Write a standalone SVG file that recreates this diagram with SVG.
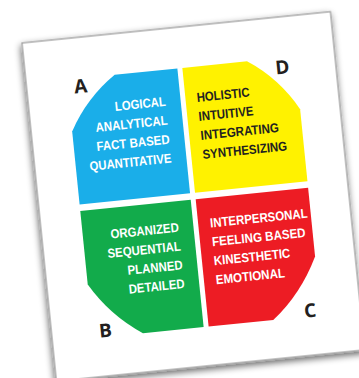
<svg xmlns="http://www.w3.org/2000/svg" width="359" height="378" viewBox="0 0 359 378">
  <defs>
    <filter id="sh" x="-10%" y="-10%" width="120%" height="120%">
      <feGaussianBlur in="SourceAlpha" stdDeviation="3.5"/>
      <feOffset dx="-1.5" dy="2.5" result="b"/>
      <feComponentTransfer><feFuncA type="linear" slope="0.6"/></feComponentTransfer>
      <feMerge><feMergeNode/><feMergeNode in="SourceGraphic"/></feMerge>
    </filter>
  </defs>
  <style>
    .t { font-family: "Liberation Sans", Arial, sans-serif; font-weight: bold; font-size: 13px; }
    .w { fill: #ffffff; }
    .k { fill: #231f20; }
    .e { text-anchor: end; }
    .lt { font-family: "Open Sans", "Liberation Sans", Arial, sans-serif; font-weight: bold; font-size: 19px; fill: #231f20; text-anchor: middle; }
  </style>
  <rect width="359" height="378" fill="#ffffff"/>
  <g transform="translate(22,43) rotate(-5.8)">
    <rect id="card" x="0" y="0" width="310" height="340" fill="#ffffff" stroke="#a0a0a0" stroke-width="1.3" filter="url(#sh)"/>
    <g id="quadrant-A">
      <path d="M89,41 L152,41 L152,166.5 L41,166.5 L41,93 Q59,61 89,41 Z" fill="#1aaee9"/>
      <text class="t w e" x="137" y="77" textLength="51" lengthAdjust="spacingAndGlyphs">LOGICAL</text>
      <text class="t w e" x="137" y="96" textLength="72.3" lengthAdjust="spacingAndGlyphs">ANALYTICAL</text>
      <text class="t w e" x="137" y="115" textLength="73.3" lengthAdjust="spacingAndGlyphs">FACT BASED</text>
      <text class="t w e" x="137" y="134" textLength="82.3" lengthAdjust="spacingAndGlyphs">QUANTITATIVE</text>
      <text class="lt" x="54" y="55.5">A</text>
    </g>
    <g id="quadrant-D">
      <path d="M157,41 L222,41 Q252,61 270,94 L270,166.5 L157,166.5 Z" fill="#fff200"/>
      <text class="t k" x="168.3" y="76.3" textLength="53" lengthAdjust="spacingAndGlyphs">HOLISTIC</text>
      <text class="t k" x="168.3" y="95.4" textLength="55" lengthAdjust="spacingAndGlyphs">INTUITIVE</text>
      <text class="t k" x="168.3" y="114.5" textLength="78.7" lengthAdjust="spacingAndGlyphs">INTEGRATING</text>
      <text class="t k" x="168.3" y="133.6" textLength="85" lengthAdjust="spacingAndGlyphs">SYNTHESIZING</text>
      <text class="lt" x="256.5" y="57">D</text>
    </g>
    <g id="quadrant-B">
      <path d="M41,173 L152,173 L152,301 L91,301 Q60,280 41,247 Z" fill="#12ab4b"/>
      <text class="t w e" x="137.3" y="203.6" textLength="68.6" lengthAdjust="spacingAndGlyphs">ORGANIZED</text>
      <text class="t w e" x="137.3" y="222.5" textLength="73.4" lengthAdjust="spacingAndGlyphs">SEQUENTIAL</text>
      <text class="t w e" x="137.3" y="241.4" textLength="55.3" lengthAdjust="spacingAndGlyphs">PLANNED</text>
      <text class="t w e" x="137.3" y="260.2" textLength="56" lengthAdjust="spacingAndGlyphs">DETAILED</text>
      <text class="lt" x="54" y="301">B</text>
    </g>
    <g id="quadrant-C">
      <path d="M157,173 L270,173 L270,242 Q252,278 222,301 L157,301 Z" fill="#ed1c24"/>
      <text class="t w" x="168.9" y="202.6" textLength="98" lengthAdjust="spacingAndGlyphs">INTERPERSONAL</text>
      <text class="t w" x="168.9" y="221.5" textLength="94" lengthAdjust="spacingAndGlyphs">FEELING BASED</text>
      <text class="t w" x="168.9" y="240.5" textLength="76.7" lengthAdjust="spacingAndGlyphs">KINESTHETIC</text>
      <text class="t w" x="168.9" y="259.6" textLength="69.3" lengthAdjust="spacingAndGlyphs">EMOTIONAL</text>
      <text class="lt" x="259.5" y="302">C</text>
    </g>
  </g>
</svg>
